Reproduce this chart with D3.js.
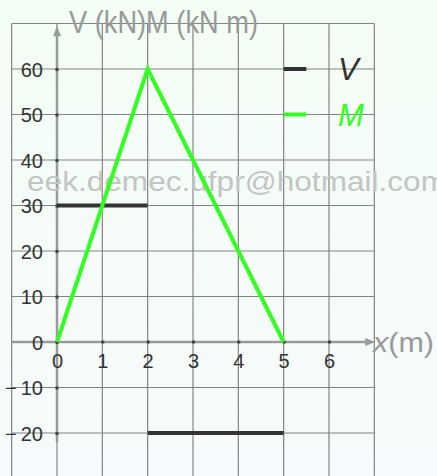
<!DOCTYPE html>
<html>
<head>
<meta charset="utf-8">
<script src="https://cdn.jsdelivr.net/npm/d3@7"></script>
<style>
  html, body { margin: 0; padding: 0; }
  body { width: 437px; height: 476px; overflow: hidden; }
  svg { display: block; font-family: "Liberation Sans", Arial, sans-serif; }
</style>
</head>
<body>
<svg id="chart" width="437" height="476"></svg>
<script>
// Shear force V (kN) and bending moment M (kN m) along the beam
const xTicks = [0, 1, 2, 3, 4, 5, 6];
const yTicks = [-20, -10, 0, 10, 20, 30, 40, 50, 60];
const shearSegments = [
  [[0, 30], [2, 30]],
  [[2, -20], [5, -20]]
];
const momentPoints = [[0, 0], [2, 60], [5, 0]];
const seriesNames = ["V", "M"];
const seriesColors = ["#333333", "#33ff22"];

const svg = d3.select("#chart");
const W = 437, H = 476;

const defs = svg.append("defs");
const grad = defs.append("linearGradient").attr("id", "bg").attr("x1", 0).attr("y1", 0).attr("x2", 0).attr("y2", 1);
grad.append("stop").attr("offset", "0%").attr("stop-color", "#f3fef5");
grad.append("stop").attr("offset", "100%").attr("stop-color", "#f7fafc");
svg.append("rect").attr("width", W).attr("height", H).attr("fill", "url(#bg)");

const x = d3.scaleLinear().domain([0, 6]).range([57, 329]);
const y = d3.scaleLinear().domain([0, 60]).range([342, 69]);

// Grid: one unit in x, ten units in y
const grid = svg.append("g").attr("stroke", "#848484").attr("stroke-width", 1.2);
d3.range(-1, 8).forEach(v => {
  grid.append("line").attr("x1", x(v)).attr("x2", x(v)).attr("y1", y(70)).attr("y2", y(-30));
});
d3.range(-30, 80, 10).forEach(v => {
  grid.append("line").attr("x1", x(-1)).attr("x2", x(7)).attr("y1", y(v)).attr("y2", y(v));
});

// Axes with arrow heads
const axisColor = "#9a9a9a";
svg.append("line").attr("x1", x(0)).attr("x2", x(0)).attr("y1", y(-22)).attr("y2", y(67.5))
  .attr("stroke", axisColor).attr("stroke-width", 2.5);
svg.append("path")
  .attr("d", `M${x(0)},${y(69.4)} L${x(0) - 4},${y(67.2)} L${x(0) + 4},${y(67.2)} Z`)
  .attr("fill", axisColor);
svg.append("line").attr("x1", x(-1)).attr("x2", x(6.8)).attr("y1", y(0)).attr("y2", y(0))
  .attr("stroke", axisColor).attr("stroke-width", 2.5);
svg.append("path")
  .attr("d", `M${x(7.02)},${y(0)} L${x(6.8)},${y(0) - 4} L${x(6.8)},${y(0) + 4} Z`)
  .attr("fill", axisColor);

// Watermark
svg.append("text").attr("x", 27).attr("y", 191).attr("fill", "#c4c4c4").attr("font-size", 28)
  .attr("textLength", 420).attr("lengthAdjust", "spacingAndGlyphs")
  .text("eek.demec.ufpr@hotmail.com");

// Tick dots and labels
const tickColor = "#333333";
const yAxis = d3.axisLeft(y).tickValues(yTicks).tickSize(0).tickPadding(14)
  .tickFormat(d => d < 0 ? "\u2212\u2009" + Math.abs(d) : String(d));
const gy = svg.append("g").attr("transform", `translate(${x(0)},0)`).call(yAxis);
gy.select(".domain").remove();
gy.selectAll("text").attr("fill", tickColor).attr("font-size", 20).attr("font-family", "Liberation Sans, Arial, sans-serif").attr("dy", "0.36em");
gy.selectAll(".tick").append("circle").attr("r", 1.8).attr("fill", "#444");

const xAxis = d3.axisBottom(x).tickValues(xTicks).tickSize(0).tickPadding(12).tickFormat(d3.format("d"));
const gx = svg.append("g").attr("transform", `translate(0,${y(0)})`).call(xAxis);
gx.select(".domain").remove();
gx.selectAll("text").attr("fill", tickColor).attr("font-size", 20).attr("font-family", "Liberation Sans, Arial, sans-serif");
gx.selectAll(".tick").append("circle").attr("r", 1.8).attr("fill", "#444");

// Axis titles
svg.append("text").attr("x", 69).attr("y", 33).attr("fill", "#999").attr("font-size", 31)
  .attr("textLength", 189).attr("lengthAdjust", "spacingAndGlyphs")
  .text("V (kN)M (kN m)");
const xt = svg.append("text").attr("x", 373).attr("y", 352).attr("fill", "#999").attr("font-size", 28)
  .attr("textLength", 61).attr("lengthAdjust", "spacingAndGlyphs");
xt.append("tspan").attr("font-style", "italic").text("x");
xt.append("tspan").text("(m)");

// Data lines
const line = d3.line().x(d => x(d[0])).y(d => y(d[1]));
svg.append("g").selectAll("path").data(shearSegments).join("path")
  .attr("d", line).attr("fill", "none").attr("stroke", seriesColors[0]).attr("stroke-width", 4);
svg.append("path").datum(momentPoints).attr("d", line).attr("fill", "none")
  .attr("stroke", seriesColors[1]).attr("stroke-width", 4).attr("stroke-linejoin", "miter");

// Legend
const legend = svg.append("g");
seriesNames.forEach((name, i) => {
  const ly = y(60 - i * 10);
  legend.append("line").attr("x1", x(5)).attr("x2", x(5.5)).attr("y1", ly).attr("y2", ly)
    .attr("stroke", seriesColors[i]).attr("stroke-width", 4);
  legend.append("text").attr("x", 338).attr("y", ly + 11).attr("fill", seriesColors[i])
    .attr("font-size", 31).attr("font-style", "italic").text(name);
});
</script>
</body>
</html>
